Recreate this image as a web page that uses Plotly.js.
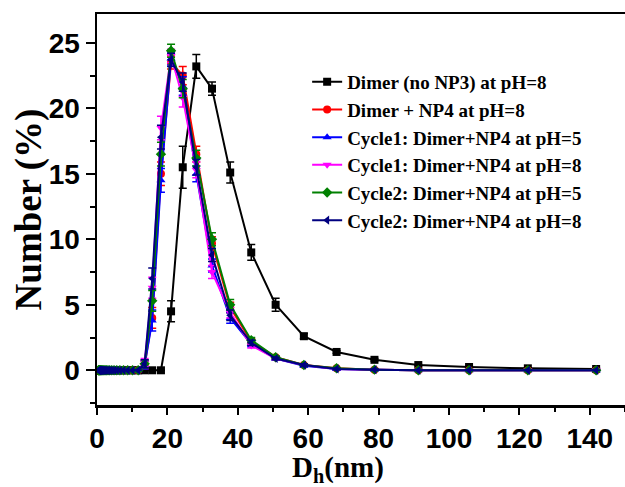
<!DOCTYPE html>
<html>
<head>
<meta charset="utf-8">
<script src="https://cdn.plot.ly/plotly-3.0.1.min.js"></script>
<style>html,body{margin:0;padding:0;background:#fff;}#chart{width:625px;height:487px;}</style>
</head>
<body>
<div id="chart"></div>
<script>
// DLS size bins (nm)
const sizes = [0.4,0.4632,0.5365,0.6213,0.7195,0.8332,0.9649,1.117,1.294,1.499,1.736,2.01,2.328,2.696,3.122,3.615,4.187,4.849,5.615,6.503,7.531,8.721,10.1,11.7,13.54,15.69,18.17,21.04,24.36,28.21,32.67,37.84,43.82,50.75,58.77,68.06,78.82,91.28,105.7,122.4,141.8];
const zeros24 = new Array(24).fill(0);
// series values (Number %)
const dimerNoNP3   = zeros24.concat([0,0,0,4.5,15.5,23.2,21.5,15.1,9.0,5.0,2.6,1.4,0.8,0.4,0.25,0.15,0.1]);
const dimerNoNP3Err= zeros24.concat([0,0,0,0.8,1.6,0.9,0.5,0.8,0.6,0.5,0.2,0.1,0.1,0.05,0.05,0.05,0.05]);
const dimerNP4pH8  = zeros24.concat([0.4,4.0,15.0,23.5,22.5,16.5,9.7,4.8,2.2,1.0,0.4,0.15,0.05,0,0,0,0]);
const c1pH5        = zeros24.concat([0.4,3.8,14.5,23.8,21.7,15.0,8.0,4.0,2.0,0.9,0.35,0.1,0.05,0,0,0,0]);
const c1pH8        = zeros24.concat([0.6,6.3,18.5,24.0,20.8,15.3,7.5,4.4,1.9,0.9,0.4,0.1,0.05,0,0,0,0]);
const c2pH5        = zeros24.concat([0.5,5.3,16.5,24.4,21.5,16.2,10.0,5.0,2.3,1.0,0.4,0.15,0.05,0,0,0,0]);
const c2pH8        = zeros24.concat([0.5,7.0,17.8,23.7,22.0,15.5,8.8,4.2,2.1,0.9,0.4,0.1,0.05,0,0,0,0]);
const colErr       = zeros24.concat([0.3,0.8,0.9,0.5,0.7,0.6,0.5,0.4,0.2,0.1,0.1,0.05,0.05,0,0,0,0]);

const names = ['Dimer (no NP3) at pH=8','Dimer + NP4 at pH=8','Cycle1: Dimer+NP4 at pH=5','Cycle1: Dimer+NP4 at pH=8','Cycle2: Dimer+NP4 at pH=5','Cycle2: Dimer+NP4 at pH=8'];
const xTitle = 'D<sub>h</sub>(nm)';
const yTitle = 'Number (%)';
const series = [dimerNoNP3, dimerNP4pH8, c1pH5, c1pH8, c2pH5, c2pH8];
const errs = [dimerNoNP3Err, colErr, colErr, colErr, colErr, colErr];
const colors = ['#000000','#ff0000','#0000ff','#ff00ff','#008000','#000080'];
const symbols = ['square','circle','triangle-up','triangle-down','diamond','triangle-left'];

const traces = series.map((y,i)=>({
  x: sizes, y: y, name: names[i], type:'scatter', mode:'lines+markers',
  line:{color:colors[i], width:2},
  marker:{color:colors[i], symbol:symbols[i], size:8},
  error_y:{type:'data', array:errs[i], visible:true, color:colors[i], thickness:1.5, width:4}
}));

const tickFont = {family:'Liberation Sans, Arial, sans-serif', size:28, color:'#000', weight:'bold'};
const serif = 'Liberation Serif, Times New Roman, serif';

const layout = {
  width:625, height:487,
  margin:{l:97, r:0, t:14, b:82},
  paper_bgcolor:'#fff', plot_bgcolor:'#fff',
  showlegend:true,
  legend:{x:0.398, y:0.875, xanchor:'left', yanchor:'top', bgcolor:'rgba(0,0,0,0)',
    font:{family:serif, size:19, color:'#000', weight:'bold'},
    tracegroupgap:0},
  xaxis:{range:[0,150], showline:true, linewidth:2.5, linecolor:'#000', mirror:true,
    ticks:'outside', ticklen:7, tickwidth:2, tickcolor:'#000', dtick:20, tick0:0,
    minor:{dtick:10, ticks:'outside', ticklen:4, tickwidth:2, tickcolor:'#000'},
    showgrid:false, zeroline:false, tickfont:tickFont},
  yaxis:{range:[-2.65,27.2], showline:true, linewidth:2.5, linecolor:'#000', mirror:false,
    ticks:'outside', ticklen:9, tickwidth:2, tickcolor:'#000', dtick:5, tick0:0,
    minor:{dtick:2.5, ticks:'outside', ticklen:5, tickwidth:2, tickcolor:'#000'},
    showgrid:false, zeroline:false, tickfont:tickFont},
  annotations:[
    {text:xTitle, xref:'paper', yref:'paper', x:0.456, y:-0.116, xanchor:'center', yanchor:'top',
     showarrow:false, borderpad:0, font:{family:serif, size:29, color:'#000', weight:'bold'}},
    {text:yTitle, xref:'paper', yref:'paper', x:-0.129, y:0.5, xanchor:'center', yanchor:'middle',
     textangle:-90, showarrow:false, font:{family:serif, size:37, color:'#000', weight:'bold'}}
  ]
};
Plotly.newPlot('chart', traces, layout, {displayModeBar:false, staticPlot:true});
</script>
</body>
</html>
